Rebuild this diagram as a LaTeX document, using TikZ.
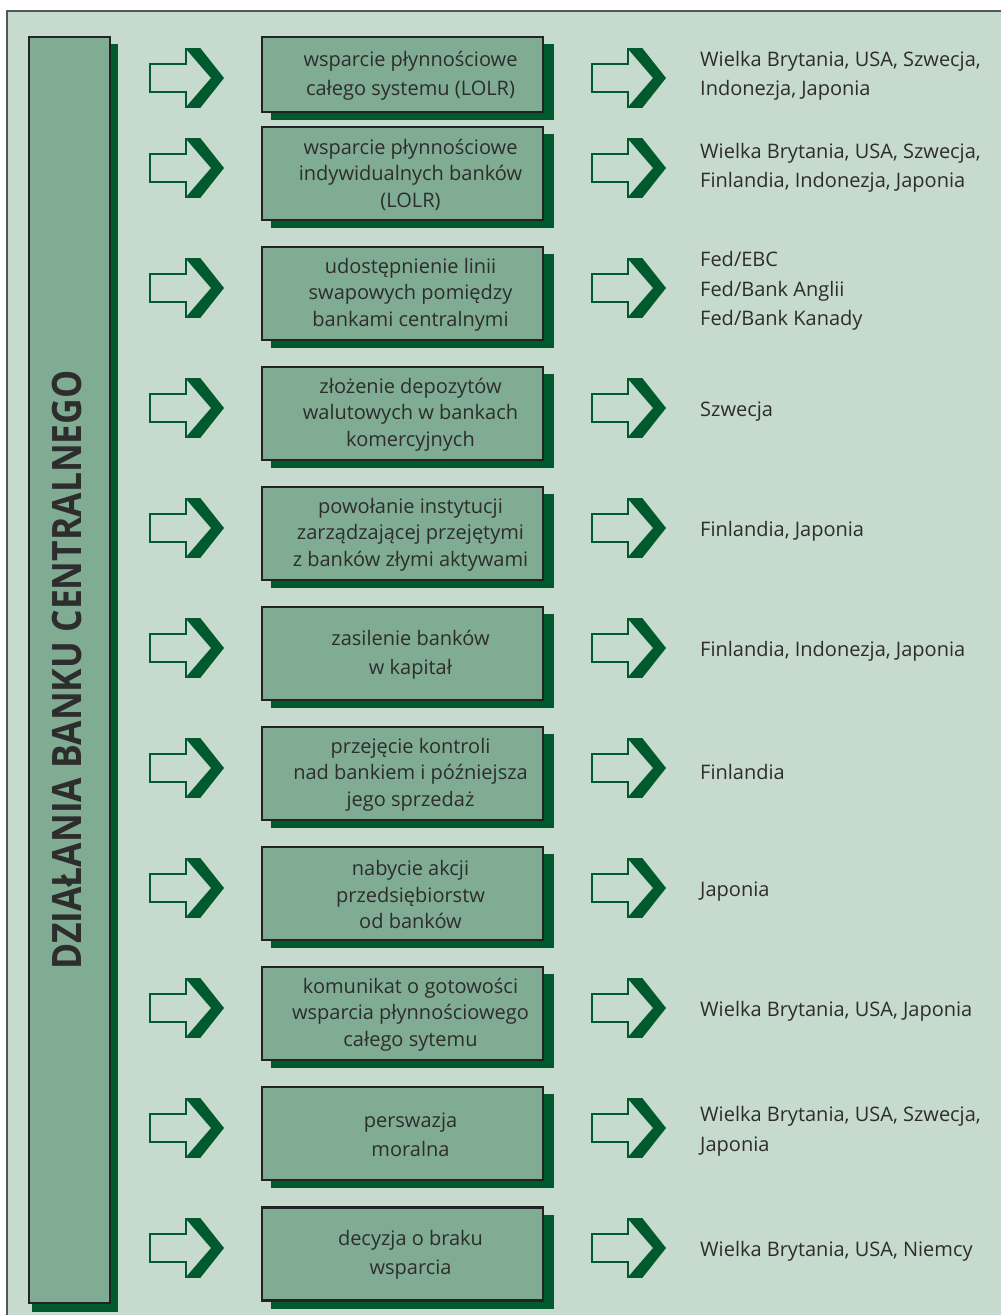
\documentclass[tikz,border=0pt]{standalone}
\usepackage{fontspec}
\setmainfont{Open Sans}
\newfontfamily\titlefont{Open Sans}[FakeStretch=0.875]
\definecolor{panelbg}{RGB}{198,218,206}
\definecolor{boxfill}{RGB}{128,172,147}
\definecolor{deepgreen}{RGB}{0,90,46}
\definecolor{edgedark}{RGB}{35,35,35}
\definecolor{inkgray}{RGB}{45,45,45}
\definecolor{framegray}{RGB}{85,85,85}

\tikzset{
  actbox/.style={draw=edgedark, line width=2.5pt, fill=boxfill, rectangle,
    minimum width=281pt, inner sep=0pt},
  acttext/.style={inner sep=0pt, align=center, text=inkgray},
  countrylist/.style={anchor=west, inner sep=0pt, align=left, text=inkgray,
    font=\fontsize{20}{29.5}\selectfont},
  pics/chevarrow/.style={code={
    \draw[deepgreen, line width=1.6pt, fill=panelbg, line join=miter]
      (-73,-14) -- (-37,-14) -- (-37,-29) -- (-23,-29) -- (0,0)
      -- (-23,29) -- (-37,29) -- (-37,14) -- (-73,14) -- cycle;
    \fill[deepgreen] (-37,-29) -- (-23,-29) -- (0,0) -- (-23,29)
      -- (-37,29) -- (-12,0) -- cycle;
  }}
}

% box with its drop shadow and its text: name, centre y, height, line spacing, text
\newcommand\actionbox[5]{%
  \fill[deepgreen] (271,{#2-#3/2+7}) rectangle (554,{#2+#3/2+8});
  \node[actbox, minimum height=#3pt] (#1) at (402.5,#2) {};
  \node[acttext, font=\fontsize{20}{#4}\selectfont] (#1-text) at (410.5,#2+1) {#5};
}

\begin{document}
\begin{tikzpicture}[x=1pt,y=-1pt]
\useasboundingbox (0,0) rectangle (1001,1315);
\clip (0,0) rectangle (1001,1315);

% panel
\draw[framegray, line width=1.5pt, fill=panelbg] (7,11) rectangle (1010,1325);

% vertical title bar
\fill[deepgreen] (32,44) rectangle (118,1312);
\node[actbox, minimum width=81pt, minimum height=1266pt] (bar) at (69.5,670) {};
\node[rotate=90, inner sep=0pt, text=inkgray,
      font=\titlefont\bfseries\fontsize{40.5}{40}\selectfont]
  (title) at (67.5,670) {DZIAŁANIA BANKU CENTRALNEGO};

% arrows
\foreach \ya in {78,168,288,408,528,648,768,888,1008,1128,1248}{
  \pic at (223,\ya) {chevarrow};
  \pic at (665,\ya) {chevarrow};
}

% actions
\actionbox{b1}{74.5}{75}{29}{wsparcie płynnościowe\\całego systemu (LOLR)}
\actionbox{b2}{173.5}{93}{26.5}{wsparcie płynnościowe\\indywidualnych banków\\(LOLR)}
\actionbox{b3}{293.5}{93}{26.5}{udostępnienie linii\\swapowych pomiędzy\\bankami centralnymi}
\actionbox{b4}{413.5}{93}{26.5}{złożenie depozytów\\walutowych w bankach\\komercyjnych}
\actionbox{b5}{533.5}{93}{26.5}{powołanie instytucji\\zarządzającej przejętymi\\z banków złymi aktywami}
\actionbox{b6}{653.5}{93}{29}{zasilenie banków\\w kapitał}
\actionbox{b7}{773.5}{93}{26.5}{przejęcie kontroli\\nad bankiem i późniejsza\\jego sprzedaż}
\actionbox{b8}{893.5}{93}{26.5}{nabycie akcji\\przedsiębiorstw\\od banków}
\actionbox{b9}{1013.5}{93}{26.5}{komunikat o gotowości\\wsparcia płynnościowego\\całego sytemu}
\actionbox{b10}{1133.5}{93}{28.5}{perswazja\\moralna}
\actionbox{b11}{1254}{93}{29}{decyzja o braku\\wsparcia}

% countries
\node[countrylist] (r1) at (700,76) {Wielka Brytania, USA, Szwecja,\\Indonezja, Japonia};
\node[countrylist] (r2) at (700,168) {Wielka Brytania, USA, Szwecja,\\Finlandia, Indonezja, Japonia};
\node[countrylist] (r3) at (700,291) {Fed/EBC\\Fed/Bank Anglii\\Fed/Bank Kanady};
\node[countrylist] (r4) at (700,411.5) {Szwecja};
\node[countrylist] (r5) at (700,531.5) {Finlandia, Japonia};
\node[countrylist] (r6) at (700,651.5) {Finlandia, Indonezja, Japonia};
\node[countrylist] (r7) at (700,771.5) {Finlandia};
\node[countrylist] (r8) at (700,891.5) {Japonia};
\node[countrylist] (r9) at (700,1011.5) {Wielka Brytania, USA, Japonia};
\node[countrylist] (r10) at (700,1131.5) {Wielka Brytania, USA, Szwecja,\\Japonia};
\node[countrylist] (r11) at (700,1251.5) {Wielka Brytania, USA, Niemcy};
\end{tikzpicture}
\end{document}
